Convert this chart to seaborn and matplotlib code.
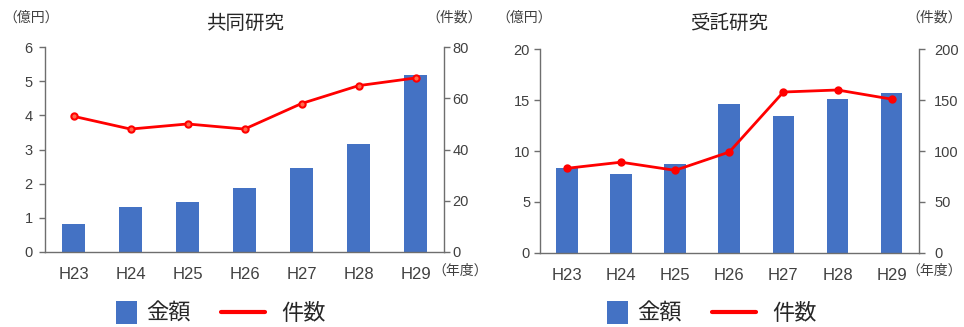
import numpy as np
import pandas as pd
import matplotlib
matplotlib.use('Agg')
import matplotlib.pyplot as plt
import seaborn as sns
from matplotlib.patches import Patch
from matplotlib.lines import Line2D

# data
years = ['H23', 'H24', 'H25', 'H26', 'H27', 'H28', 'H29']

joint_amount = [0.8, 1.32, 1.47, 1.87, 2.45, 3.17, 5.2]     # 億円
joint_count = [53, 48, 50, 48, 58, 65, 68]                   # 件数

contract_amount = [8.3, 7.7, 8.75, 14.6, 13.4, 15.1, 15.7]  # 億円
contract_count = [83, 89, 81, 99, 158, 160, 151]             # 件数

BAR = '#4472C4'
RED = '#FF0000'
AXIS = '#6e6e6e'
TICK_TXT = '#404040'
CJK = ['Noto Sans CJK JP', 'DejaVu Sans']

sns.set_theme(style='white')
plt.rcParams['font.family'] = ['Liberation Sans', 'Noto Sans CJK JP', 'DejaVu Sans']

fig = plt.figure(figsize=(9.64, 3.27), dpi=100)


def draw_panel(rect, title, amount, count, amax, astep, cmax, cstep,
               lpad, rpad, face):
    df = pd.DataFrame({'year': years, 'amount': amount, 'count': count})
    ax = fig.add_axes(rect)
    sns.barplot(data=df, x='year', y='amount', color=BAR, saturation=1,
                width=0.4, linewidth=0, ax=ax)
    ax2 = ax.twinx()
    sns.pointplot(data=df, x='year', y='count', color=RED, markers='o',
                  markersize=4.5, linewidth=2, ax=ax2)
    for ln in ax2.lines:
        ln.set_markerfacecolor(face)
        ln.set_markeredgecolor(RED)

    ax.set_xlim(-0.5, 6.5)
    ax.set_ylim(0, amax)
    ax.set_yticks(np.arange(0, amax + 0.01, astep))
    ax2.set_ylim(0, cmax)
    ax2.set_yticks(np.arange(0, cmax + 1, cstep))
    for a in (ax, ax2):
        a.set_xlabel('')
        a.set_ylabel('')
        a.grid(False)
        for s in a.spines.values():
            s.set_visible(False)
            s.set_color(AXIS)
            s.set_linewidth(1.0)
    ax.spines['left'].set_visible(True)
    ax.spines['bottom'].set_visible(True)
    ax2.spines['right'].set_visible(True)

    ax.tick_params(axis='y', left=True, direction='out', length=4, width=1,
                   color=AXIS, labelsize=10.5, labelcolor=TICK_TXT, pad=lpad)
    ax.tick_params(axis='x', bottom=False, labelsize=12, labelcolor=TICK_TXT, pad=5)
    ax2.tick_params(axis='y', right=True, direction='out', length=4, width=1,
                    color=AXIS, labelsize=10.5, labelcolor=TICK_TXT, pad=rpad)

    x0, y0, w, h = rect
    fig.text(x0 + w / 2, 0.927, title, ha='center', va='center',
             fontsize=14, color='#262626', family=CJK)
    return ax, ax2


draw_panel([0.0467, 0.2303, 0.414, 0.625], '共同研究', joint_amount, joint_count,
           6, 1, 80, 20, lpad=5, rpad=2, face='#FF6A4D')
draw_panel([0.560, 0.2272, 0.393, 0.622], '受託研究', contract_amount, contract_count,
           20, 5, 200, 50, lpad=3, rpad=7, face=RED)

# unit labels
unit_kw = dict(fontsize=10, color=TICK_TXT, family=CJK, va='center')
fig.text(31 / 964, 1 - 18 / 327, '（億円）', ha='center', **unit_kw)
fig.text(454 / 964, 1 - 18 / 327, '（件数）', ha='center', **unit_kw)
fig.text(524 / 964, 1 - 18 / 327, '（億円）', ha='center', **unit_kw)
fig.text(962 / 964, 1 - 18 / 327, '（件数）', ha='right', **unit_kw)
fig.text(460 / 964, 1 - 271 / 327, '（年度）', ha='center', **unit_kw)
fig.text(962 / 964, 1 - 271 / 327, '（年度）', ha='right', **unit_kw)

# legends: one for the bar square, one for the line
bar_handle = [Patch(facecolor=BAR, edgecolor='none', label='金額')]
line_handle = [Line2D([], [], color=RED, lw=3, label='件数')]
leg_kw = dict(loc='center left', frameon=False, borderpad=0, borderaxespad=0,
              prop={'family': CJK, 'size': 16}, labelcolor='#262626')
for bx, lx in [(116, 221), (607, 712)]:
    fig.legend(handles=bar_handle, bbox_to_anchor=(bx / 964, 1 - 313 / 327),
               handlelength=0.95, handleheight=1.2, handletextpad=0.4, **leg_kw)
    fig.legend(handles=line_handle, bbox_to_anchor=(lx / 964, 1 - 313 / 327),
               handlelength=2.0, handletextpad=0.7, **leg_kw)

fig.savefig('out.png', dpi=100)
